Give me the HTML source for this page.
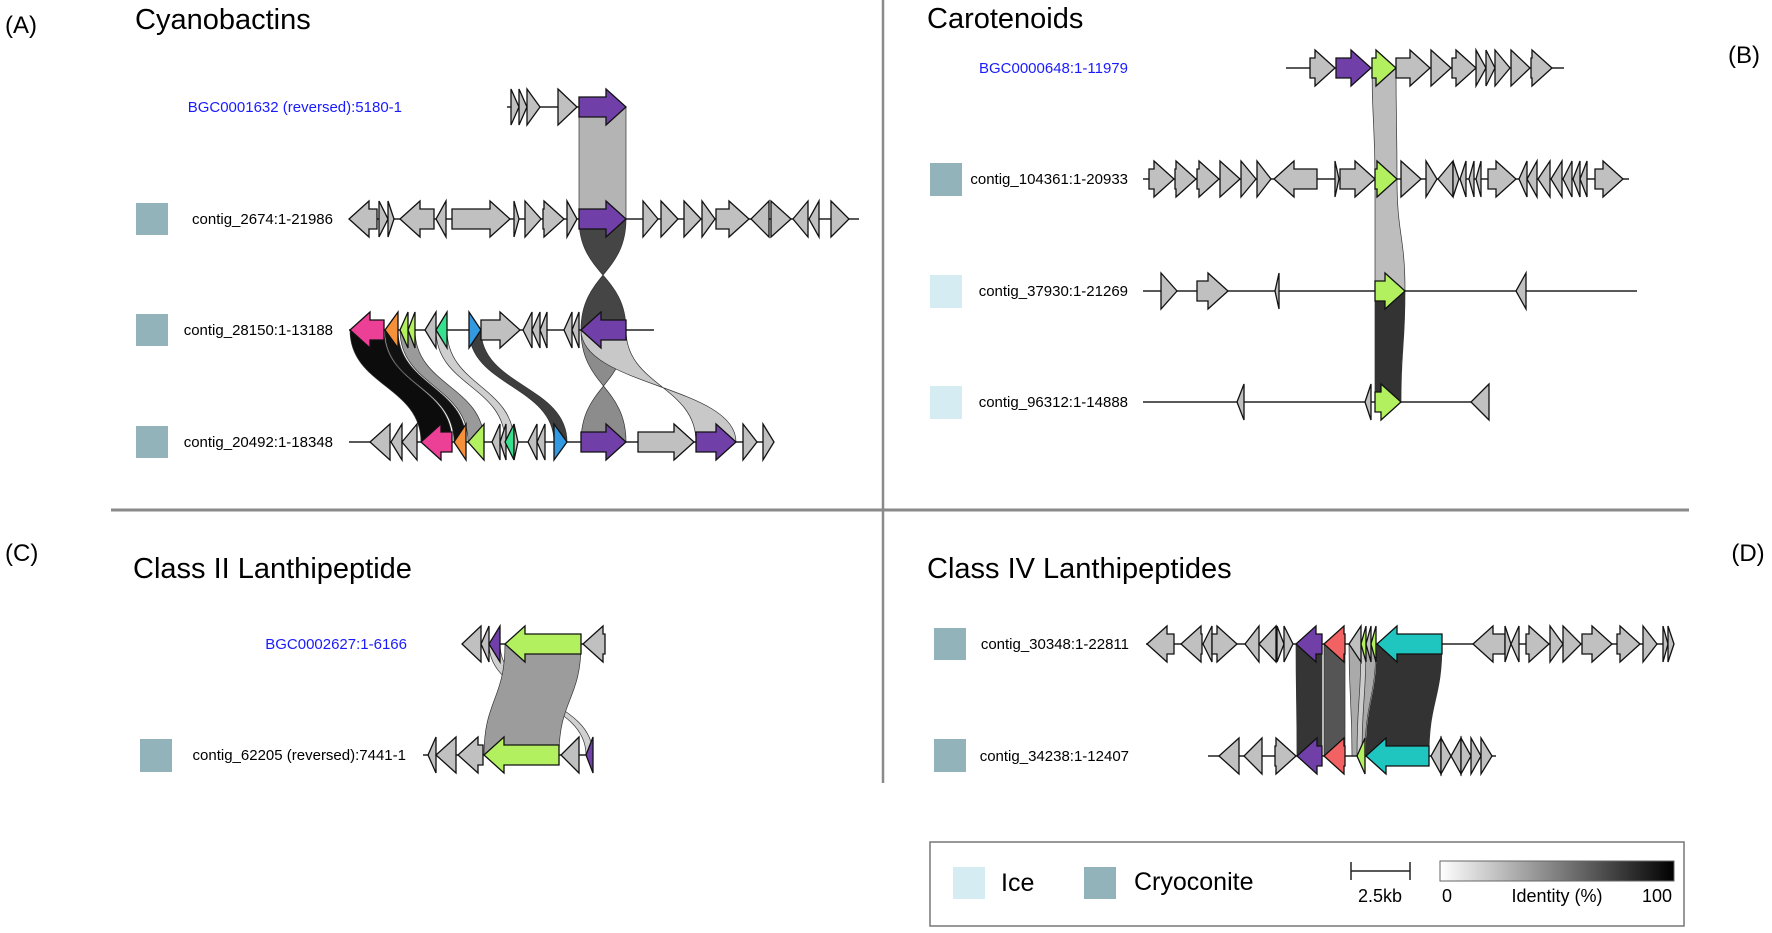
<!DOCTYPE html>
<html><head><meta charset="utf-8">
<style>
html,body{margin:0;padding:0;background:#fff;}
svg{display:block;}
text{font-family:"Liberation Sans","DejaVu Sans",sans-serif;}
</style></head>
<body>
<svg id="s" width="1772" height="933" viewBox="0 0 1772 933" xmlns="http://www.w3.org/2000/svg">
<rect width="1772" height="933" fill="#fff"/>
<line x1="883" y1="0" x2="883" y2="783" stroke="#8a8a8a" stroke-width="2.5"/>
<line x1="111" y1="510" x2="1689" y2="510" stroke="#8a8a8a" stroke-width="3"/>
<g id="links"></g>
<g id="lines"></g>
<g id="genes"></g>
<text x="5" y="33" font-size="24">(A)</text>
<text x="135" y="29" font-size="29">Cyanobactins</text>
<text x="1744" y="63" font-size="24" text-anchor="middle">(B)</text>
<text x="927" y="28" font-size="29">Carotenoids</text>
<text x="5" y="561" font-size="24">(C)</text>
<text x="133" y="578" font-size="29">Class II Lanthipeptide</text>
<text x="1748" y="561" font-size="24" text-anchor="middle">(D)</text>
<text x="927" y="578" font-size="29">Class IV Lanthipeptides</text>

<text x="402" y="112" font-size="15" fill="#1a1aff" text-anchor="end">BGC0001632 (reversed):5180-1</text>
<rect x="136" y="203" width="32" height="32" fill="#93b3ba"/>
<text x="333" y="224" font-size="15" text-anchor="end">contig_2674:1-21986</text>
<rect x="136" y="314" width="32" height="32" fill="#93b3ba"/>
<text x="333" y="335" font-size="15" text-anchor="end">contig_28150:1-13188</text>
<rect x="136" y="426" width="32" height="32" fill="#93b3ba"/>
<text x="333" y="447" font-size="15" text-anchor="end">contig_20492:1-18348</text>

<text x="1128" y="73" font-size="15" fill="#1a1aff" text-anchor="end">BGC0000648:1-11979</text>
<rect x="930" y="163" width="32" height="33" fill="#93b3ba"/>
<text x="1128" y="184" font-size="15" text-anchor="end">contig_104361:1-20933</text>
<rect x="930" y="275" width="32" height="33" fill="#d5ecf2"/>
<text x="1128" y="296" font-size="15" text-anchor="end">contig_37930:1-21269</text>
<rect x="930" y="386" width="32" height="33" fill="#d5ecf2"/>
<text x="1128" y="407" font-size="15" text-anchor="end">contig_96312:1-14888</text>

<text x="407" y="649" font-size="15" fill="#1a1aff" text-anchor="end">BGC0002627:1-6166</text>
<rect x="140" y="739" width="32" height="33" fill="#93b3ba"/>
<text x="406" y="760" font-size="15" text-anchor="end">contig_62205 (reversed):7441-1</text>

<rect x="934" y="628" width="32" height="32" fill="#93b3ba"/>
<text x="1129" y="649" font-size="15" text-anchor="end">contig_30348:1-22811</text>
<rect x="934" y="739" width="32" height="33" fill="#93b3ba"/>
<text x="1129" y="761" font-size="15" text-anchor="end">contig_34238:1-12407</text>

<rect x="930" y="842" width="754" height="84" fill="#fff" stroke="#777" stroke-width="1.5"/>
<rect x="953" y="867" width="32" height="32" fill="#d5ecf2"/>
<text x="1001" y="891" font-size="25">Ice</text>
<rect x="1084" y="867" width="32" height="32" fill="#93b3ba"/>
<text x="1134" y="890" font-size="25">Cryoconite</text>
<line x1="1351" y1="871" x2="1410" y2="871" stroke="#222" stroke-width="1.5"/>
<line x1="1351" y1="862" x2="1351" y2="880" stroke="#222" stroke-width="1.5"/>
<line x1="1410" y1="862" x2="1410" y2="880" stroke="#222" stroke-width="1.5"/>
<text x="1380" y="902" font-size="18" text-anchor="middle">2.5kb</text>
<defs><linearGradient id="gr" x1="0" x2="1" y1="0" y2="0"><stop offset="0" stop-color="#fff"/><stop offset="1" stop-color="#000"/></linearGradient></defs>
<rect x="1440" y="861" width="234" height="20" fill="url(#gr)" stroke="#666" stroke-width="1"/>
<text x="1442" y="902" font-size="18">0</text>
<text x="1557" y="902" font-size="18" text-anchor="middle">Identity (%)</text>
<text x="1672" y="902" font-size="18" text-anchor="end">100</text>
</svg>
<script>
var NS="http://www.w3.org/2000/svg";
function el(g,tag,attrs){var e=document.createElementNS(NS,tag);for(var k in attrs)e.setAttribute(k,attrs[k]);document.getElementById(g).appendChild(e);}
function line(x1,x2,y){el("lines","line",{x1:x1,x2:x2,y1:y,y2:y,stroke:"#222","stroke-width":1.6});}
var C={g:"#c0c0c0",p:"#7040a8",pk:"#ec3f96",o:"#f5913a",l:"#b2f060",gr:"#36e08c",b:"#3399e0",r:"#f26262",c:"#1ec6bf"};
function gene(x1,x2,y,d,c){var h=18,b=10,w=x2-x1,hl=Math.min(w,20),pts;
 if(d>0){var m=x2-hl;pts=[[x1,y-b],[m,y-b],[m,y-h],[x2,y],[m,y+h],[m,y+b],[x1,y+b]];if(hl>=w)pts=[[x1,y-h],[x2,y],[x1,y+h]];}
 else{var m=x1+hl;pts=[[x2,y-b],[m,y-b],[m,y-h],[x1,y],[m,y+h],[m,y+b],[x2,y+b]];if(hl>=w)pts=[[x2,y-h],[x1,y],[x2,y+h]];}
 el("genes","polygon",{points:pts.map(function(p){return p.join(",")}).join(" "),fill:C[c]||c,stroke:"#111","stroke-width":1.3,"stroke-linejoin":"miter"});}
function G(y,list){list.forEach(function(a){gene(a[0],a[1],y,a[2],a[3]||"g");});}
function rib(a1,a2,y1,b1,b2,y2,col,cross){var m=(y1+y2)/2,d;
 if(!cross)d="M"+a1+","+y1+" C"+a1+","+m+" "+b1+","+m+" "+b1+","+y2+" L"+b2+","+y2+" C"+b2+","+m+" "+a2+","+m+" "+a2+","+y1+"Z";
 else d="M"+a1+","+y1+" C"+a1+","+m+" "+b2+","+m+" "+b2+","+y2+" L"+b1+","+y2+" C"+b1+","+m+" "+a2+","+m+" "+a2+","+y1+"Z";
 el("links","path",{d:d,fill:col,stroke:"#333","stroke-width":0.7});}
/* Panel A */
rib(579,626,107,579,626,219,"#b4b4b4");
rib(579,626,219,581,626,330,"#454545",1);
rib(581,626,330,581,626,442,"#8c8c8c",1);
rib(581,626,330,696,736,442,"#c8c8c8",1);
rib(350,384,330,421,452,442,"#0c0c0c");
rib(385,398,330,454,466,442,"#111");
rib(400,415,330,468,484,442,"#9a9a9a");
rib(436,447,330,505,514,442,"#cfcfcf");
rib(469,481,330,554,567,442,"#3e3e3e");
line(507,626,107);
G(107,[[511,519,1],[519,527,1],[527,540,1],[558,577,1],[579,626,1,"p"]]);
line(349,859,219);
G(219,[[349,377,-1],[379,388,1],[388,394,1],[400,434,-1],[436,446,-1],[452,510,1],[514,519,1],[525,541,1],[543,564,1],[567,577,1],[579,626,1,"p"],[643,658,1],[661,678,1],[684,701,1],[702,715,1],[716,749,1],[751,769,-1],[771,791,1],[793,808,-1],[809,819,-1],[831,849,1]]);
line(349,654,330);
G(330,[[350,384,-1,"pk"],[385,398,-1,"o"],[400,408,-1,"l"],[408,415,-1,"l"],[425,436,-1],[436,447,-1,"gr"],[469,481,1,"b"],[481,520,1],[523,532,-1],[532,540,-1],[540,547,-1],[564,572,-1],[572,579,-1],[581,626,-1,"p"]]);
line(349,774,442);
G(442,[[370,390,-1],[391,402,-1],[402,417,-1],[421,452,-1,"pk"],[454,466,-1,"o"],[468,484,-1,"l"],[492,500,-1],[500,506,-1],[505,514,-1,"gr"],[514,518,1],[528,537,-1],[537,545,-1],[554,567,1,"b"],[581,626,1,"p"],[638,694,1],[696,736,1,"p"],[743,757,1],[763,774,1]]);
/* Panel B */
rib(1372,1396,68,1375,1397,179,"#bdbdbd");
rib(1375,1397,179,1375,1405,291,"#bdbdbd");
rib(1375,1405,291,1375,1401,402,"#333");
line(1286,1564,68);
G(68,[[1310,1335,1],[1336,1371,1,"p"],[1372,1396,1,"l"],[1396,1430,1],[1431,1451,1],[1452,1476,1],[1476,1486,1],[1486,1495,1],[1495,1510,1],[1511,1530,1],[1531,1552,1]]);
line(1143,1629,179);
G(179,[[1149,1174,1],[1175,1196,1],[1197,1219,1],[1220,1240,1],[1241,1256,1],[1257,1271,1],[1274,1317,-1],[1335,1339,1],[1340,1375,1],[1375,1397,1,"l"],[1401,1421,1],[1426,1437,1],[1438,1453,-1],[1453,1459,1],[1460,1466,-1],[1469,1474,-1],[1476,1481,-1],[1488,1516,1],[1519,1527,-1],[1527,1537,-1],[1538,1550,-1],[1551,1562,-1],[1563,1572,-1],[1573,1580,-1],[1580,1587,-1],[1595,1623,1]]);
line(1143,1637,291);
G(291,[[1161,1177,1],[1197,1228,1],[1275,1279,-1],[1375,1405,1,"l"],[1516,1526,-1]]);
line(1143,1488,402);
G(402,[[1237,1244,-1],[1365,1371,-1],[1375,1401,1,"l"],[1471,1489,-1]]);
/* Panel C */
rib(489,500,644,586,593,755,"#d0d0d0");
rib(505,581,644,484,559,755,"#9c9c9c");
line(462,605,644);
G(644,[[462,481,-1],[481,489,-1],[489,500,-1,"p"],[505,581,-1,"l"],[583,605,-1]]);
line(423,593,755);
G(755,[[428,436,-1],[436,456,-1],[458,483,-1],[484,559,-1,"l"],[561,579,-1],[586,593,-1,"p"]]);
/* Panel D */
rib(1296,1322,644,1297,1322,756,"#353535");
rib(1324,1345,644,1324,1345,756,"#555");
rib(1349,1376,644,1352,1365,756,"#aaa");
rib(1361,1366,644,1357,1362,756,"#ccc");
rib(1377,1442,644,1366,1429,756,"#333");
line(1146,1674,644);
G(644,[[1147,1174,-1],[1181,1202,-1],[1203,1212,-1],[1212,1237,1],[1245,1259,-1],[1259,1276,-1],[1277,1284,1],[1284,1293,1],[1296,1322,-1,"p"],[1324,1345,-1,"r"],[1349,1361,-1],[1361,1366,-1,"l"],[1366,1371,-1],[1371,1376,-1,"l"],[1377,1442,-1,"c"],[1473,1505,-1],[1505,1511,1],[1511,1519,-1],[1526,1549,1],[1550,1563,1],[1563,1581,1],[1582,1612,1],[1617,1640,1],[1643,1657,1],[1663,1668,1],[1668,1674,1]]);
line(1208,1496,756);
G(756,[[1219,1239,-1],[1244,1262,-1],[1275,1296,1],[1297,1322,-1,"p"],[1324,1345,-1,"r"],[1357,1365,-1,"l"],[1366,1429,-1,"c"],[1431,1441,-1],[1441,1451,1],[1451,1461,-1],[1461,1471,1],[1471,1481,1],[1481,1492,1]]);
</script>
</body></html>
